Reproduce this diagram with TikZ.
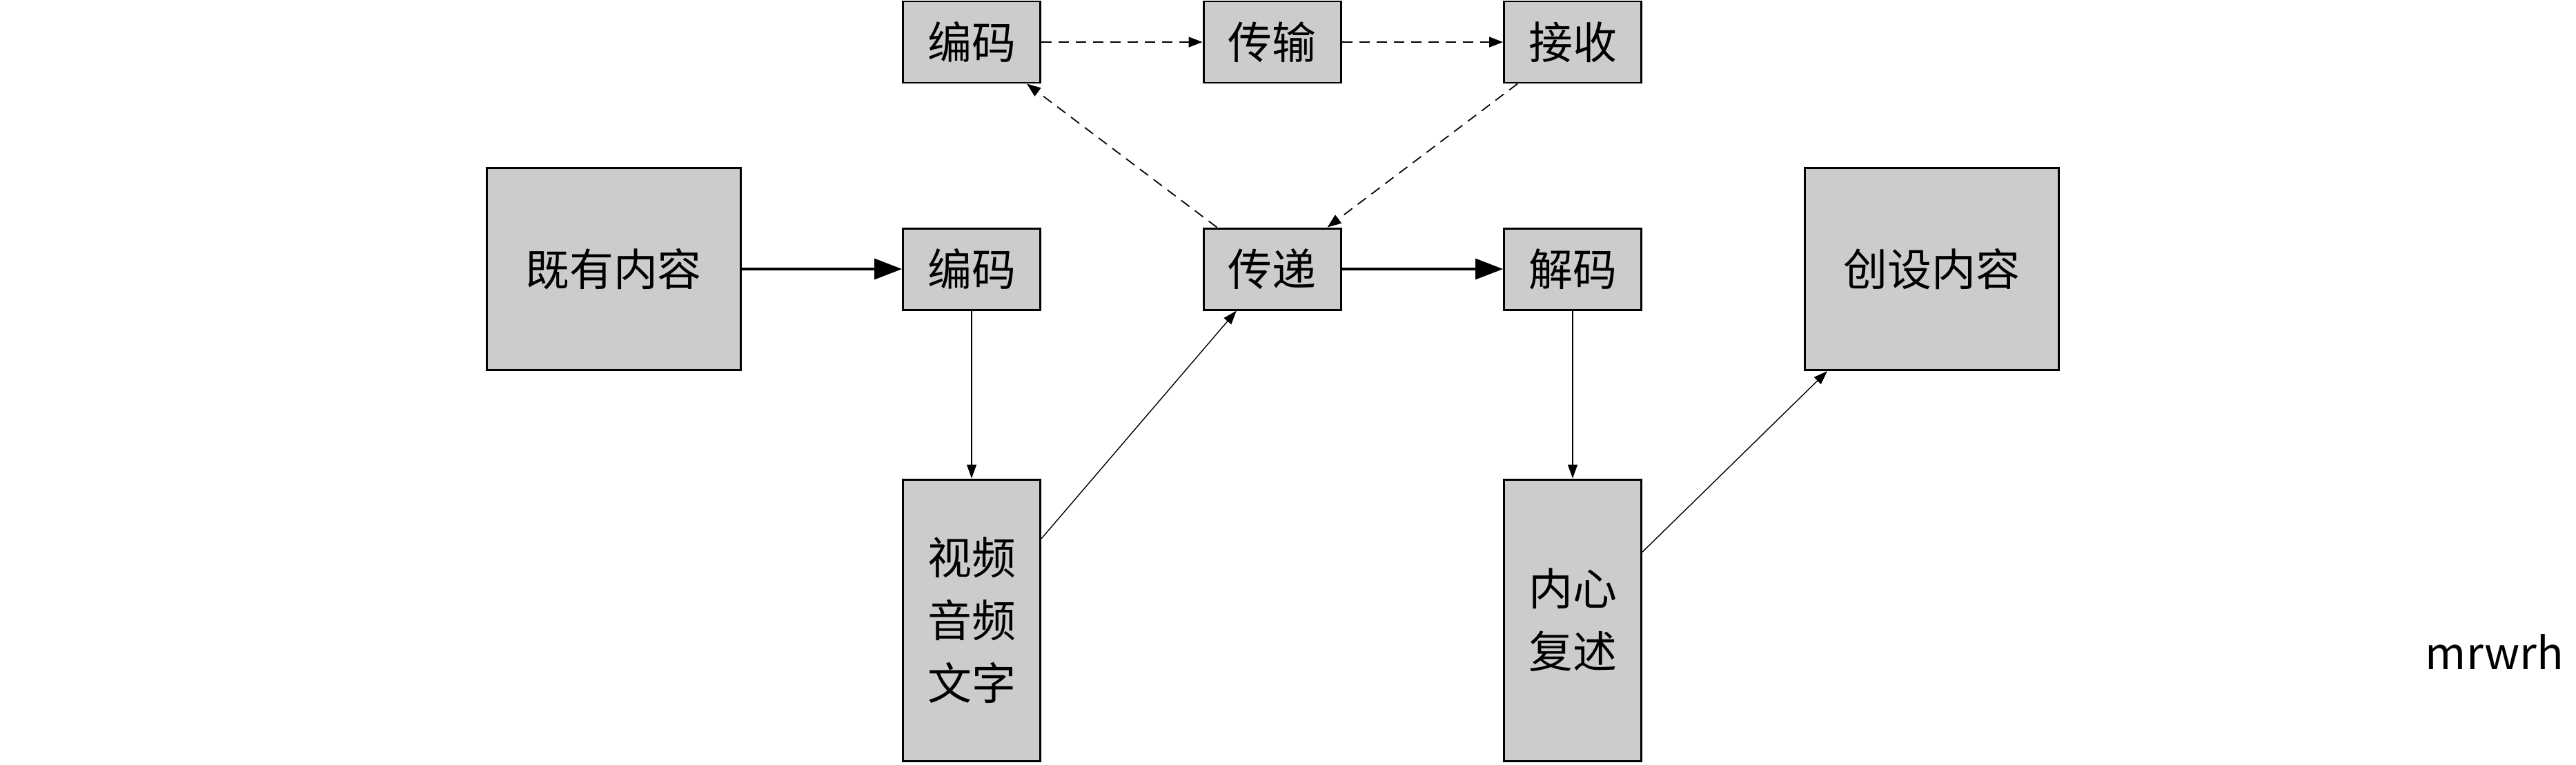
\documentclass[tikz,border=0pt]{standalone}
\usepackage{fontspec}
\setmainfont{Noto Sans CJK SC}
\usepackage{tikz}
\usetikzlibrary{positioning,arrows.meta}
\definecolor{boxgray}{HTML}{CCCCCC}
\tikzset{node distance=4.355cm, auto,
  block/.style={draw, fill=boxgray, line width=0.85pt, inner sep=0pt,
    minimum width=1.99cm, minimum height=1.18cm, align=center,
    font=\fontsize{18.2pt}{25.9pt}\selectfont},
  bigblock/.style={block, minimum width=3.68cm, minimum height=2.93cm},
  tallblock/.style={block, minimum height=4.08cm},
  pass/.style={-{Triangle[length=0.4cm,width=0.3cm]}, line width=0.9pt},
  relay/.style={-{Triangle[length=0.2cm,width=0.15cm]}, line width=0.5pt,
    dash pattern=on 0.15cm off 0.1cm},
  wire/.style={-{Triangle[length=0.2cm,width=0.14cm]}, line width=0.4pt}}

\begin{document}
\begin{tikzpicture}
             \useasboundingbox (0,0) rectangle (37.33,-11.08);

             \node (known) [bigblock] at (8.89,-3.90) {既有内容};
             \node (enc) [block, right of=known, node distance=5.19cm] {编码};
             \node (send) [block, right of=enc] {传递};
             \node (dec) [block, right of=send] {解码};
             \node (made) [bigblock, right of=dec, node distance=5.20cm] {创设内容};

             \node (encT) [block, above of=enc, node distance=3.29cm] {编码};
             \node (carry) [block, above of=send, node distance=3.29cm] {传输};
             \node (recv) [block, above of=dec, node distance=3.29cm] {接收};

             \node (media) [tallblock, below of=enc, node distance=5.09cm] {视频\\音频\\文字};
             \node (inner) [tallblock, below of=dec, node distance=5.09cm] {内心\\复述};

             \node (sign) [anchor=base, font=\fontsize{18.2pt}{22pt}\selectfont] at (36.15,-9.70) {mrwrh};

             \draw [pass] (known) to (enc);
             \draw [pass] (send) to (dec);

             \draw [relay] (encT) to (carry);
             \draw [relay] (carry) to (recv);
             \draw [relay] (send) to (encT);
             \draw [relay] (recv) to (send);

             \draw [wire] (enc) to (media);
             \draw [wire] (media) to (send);
             \draw [wire] (dec) to (inner);
             \draw [wire] (inner) to (made);
\end{tikzpicture}
\end{document}
